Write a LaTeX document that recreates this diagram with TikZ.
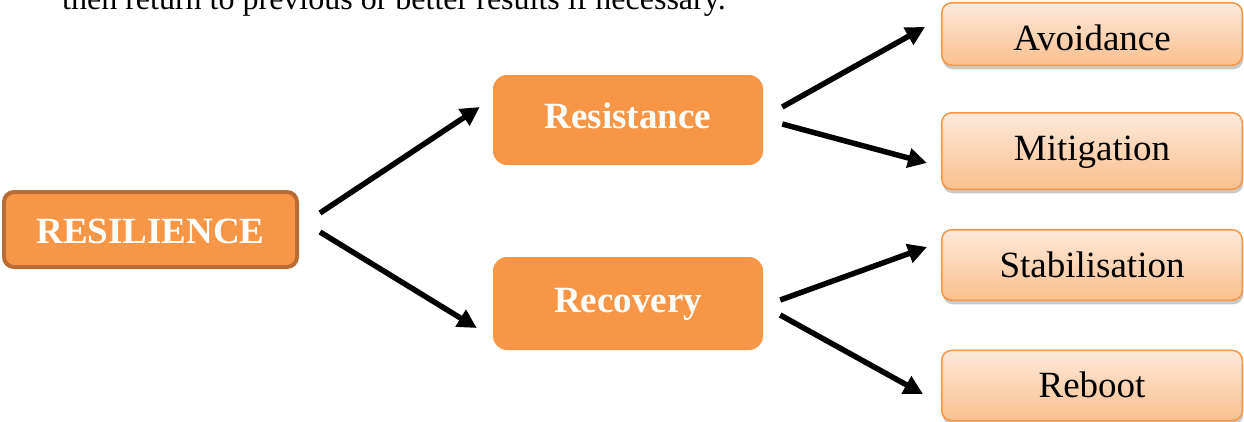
\documentclass[tikz,border=0pt]{standalone}
\usepackage{fontspec}
\setmainfont{Liberation Serif}
\usetikzlibrary{arrows.meta,shadows}
\definecolor{orangeA}{HTML}{F79646}
\definecolor{orangeB}{HTML}{B96D34}
\definecolor{peachTop}{HTML}{FDE9D9}
\definecolor{peachBot}{HTML}{FAC08F}
\begin{document}
\begin{tikzpicture}[x=1pt,y=-1pt,
  bigfont/.style={font=\fontsize{37}{42}\selectfont},
  mainbox/.style={draw=orangeB, line width=4pt, fill=orangeA, rounded corners=10pt,
    text=white, font=\fontsize{37}{42}\selectfont\bfseries, inner sep=0pt,
    text height=24pt, text depth=0pt, align=center},
  midbox/.style={fill=orangeA, rounded corners=14pt, text=white,
    font=\fontsize{37}{42}\selectfont\bfseries, inner sep=0pt,
    minimum width=270pt, text height=24pt, text depth=0pt},
  leafbox/.style={draw=orangeA, line width=1.5pt, top color=peachTop, bottom color=peachBot,
    rounded corners=10pt, bigfont, inner sep=0pt, minimum width=300.5pt,
    text height=24pt, text depth=0pt,
    drop shadow={shadow xshift=1pt, shadow yshift=-4pt, opacity=0.35, fill=black!60}},
  arr/.style={line width=5.5pt, -{Triangle[length=19pt,width=19pt]}}
]
\useasboundingbox (0,0) rectangle (1244,421);
\clip (0,0) rectangle (1244,421);

\node[anchor=base west, inner sep=0pt, font=\fontsize{32}{38}\selectfont] (txt) at (62,9)
  {then return to previous or better results if necessary.};

\node[mainbox, minimum width=293pt, minimum height=75pt] (resil) at (150.5,229.5)
  {\raisebox{-1.5pt}{RESILIENCE}};

\node[midbox, minimum height=90pt] (resist) at (628,120) {\raisebox{4pt}{Resistance}};
\node[midbox, minimum height=93pt] (recov) at (628,303.5) {\raisebox{3.5pt}{Recovery}};

\node[leafbox, minimum height=62.5pt] (avoid) at (1092,34) {\raisebox{-4pt}{Avoidance}};
\node[leafbox, minimum height=76.5pt] (mitig) at (1092,151) {\raisebox{3pt}{Mitigation}};
\node[leafbox, minimum height=70.5pt] (stab) at (1092,265) {Stabilisation};
\node[leafbox, minimum height=70.5pt] (reboot) at (1092,385.5) {\raisebox{0.5pt}{Reboot}};

\draw[arr] ([xshift=21pt,yshift=16.5pt]resil.east) -- ([xshift=-13pt,yshift=13pt]resist.west);
\draw[arr] ([xshift=21pt,yshift=-2.5pt]resil.east) -- ([xshift=-16pt,yshift=-24.5pt]recov.west);

\draw[arr] ([xshift=19pt,yshift=13pt]resist.east) -- ([xshift=-16pt,yshift=7pt]avoid.west);
\draw[arr] ([xshift=19pt,yshift=-4pt]resist.east) -- ([xshift=-14pt,yshift=-12pt]mitig.west);

\draw[arr] ([xshift=17pt,yshift=3.5pt]recov.east) -- ([xshift=-14pt,yshift=18pt]stab.west);
\draw[arr] ([xshift=17pt,yshift=-11.5pt]recov.east) -- ([xshift=-18pt,yshift=-8.5pt]reboot.west);
\end{tikzpicture}
\end{document}
